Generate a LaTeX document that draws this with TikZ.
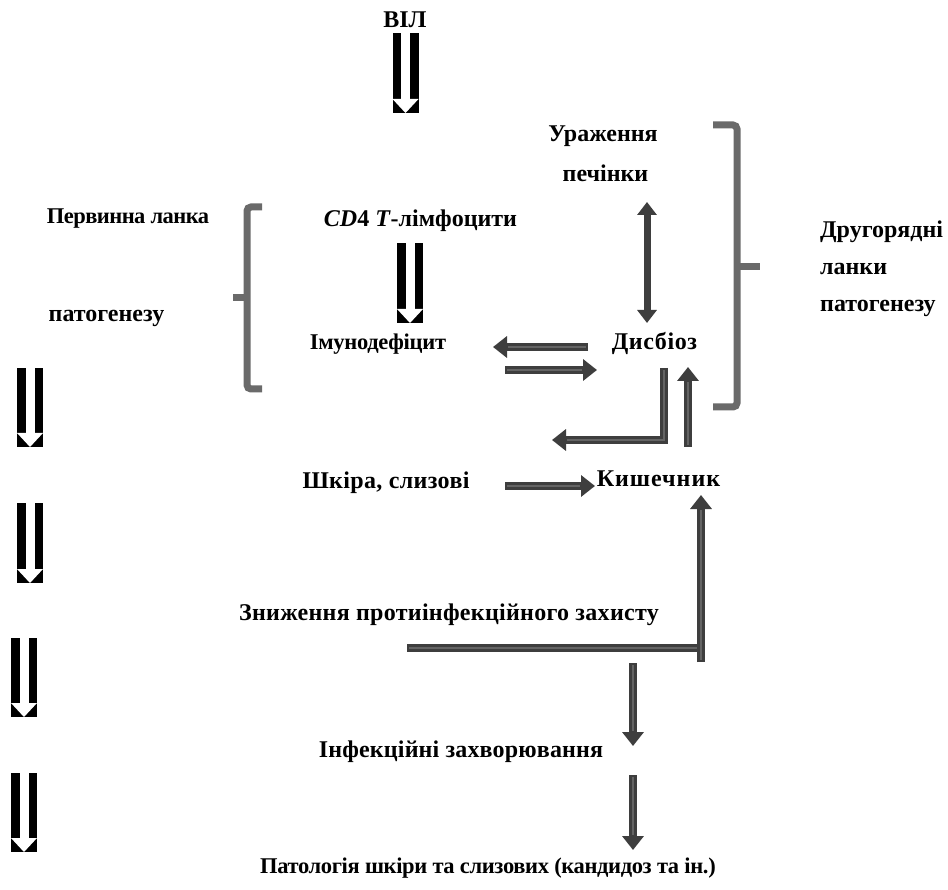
\documentclass[tikz,border=0pt]{standalone}
\usepackage{fontspec}
\setmainfont{Liberation Serif}
\usetikzlibrary{arrows.meta}
\definecolor{arrdark}{HTML}{3E3E3E}
\definecolor{arrlight}{HTML}{646464}
\definecolor{brk}{HTML}{6A6A6A}
\tikzset{
  lbl/.style={font=\bfseries\fontsize{24}{28}\selectfont, inner sep=0pt, anchor=base},
  ls/.style={font=\bfseries\fontsize{24}{28}\selectfont\addfontfeatures{LetterSpace=#1}},
  lsm/.style={font=\bfseries\fontsize{22.5}{27}\selectfont\addfontfeatures{LetterSpace=#1}},
  garrow/.style={draw=arrdark, line width=8pt, -{Triangle[length=14pt,width=21pt]},
     postaction={draw=arrlight, line width=2.5pt, -, shorten >=15pt, shorten <=2pt}},
  gline/.style={draw=arrdark, line width=8pt,
     postaction={draw=arrlight, line width=2.5pt, shorten >=2pt, shorten <=2pt}},
  gdouble/.style={draw=arrdark, line width=7pt, {Triangle[length=13pt,width=19pt]}-{Triangle[length=13pt,width=19pt]}},
  bracket/.style={draw=brk, line width=7pt, rounded corners=4pt}
}
\newcommand\hollowdown[3]{%
  \fill[black] (#1-13,#2) rectangle (#1+13,#3);
  \fill[white] (#1-4.5,#2) rectangle (#1+4.5,#3-14);
  \fill[white] (#1-13,#3-14) -- (#1+13,#3-14) -- (#1,#3) -- cycle;
}
\begin{document}
\begin{tikzpicture}[x=1pt,y=-1pt]
\useasboundingbox[fill=white] (0,0) rectangle (948,890);

% texts
\node[lbl] (vil) at (405,28) {ВІЛ};
\node[lbl] (urazh) at (603,142) {Ураження};
\node[lbl] (pech) at (605.5,182) {печінки};
\node[lbl, lsm=-2.4] (pervynna) at (128,224) {Первинна ланка};
\node[lbl] (cd4) at (420.5,227) {\textit{CD}4 \textit{T}-лімфоцити};
\node[lbl, anchor=base west] (druh) at (820,238) {Другорядні};
\node[lbl, anchor=base west] (lanky) at (820,275) {ланки};
\node[lbl, anchor=base west] (patog2) at (820,312) {патогенезу};
\node[lbl] (patog1) at (106.5,322) {патогенезу};
\node[lbl, lsm=-1.3] (imuno) at (378,350) {Імунодефіцит};
\node[lbl, ls=2.5] (dysb) at (654.5,350) {Дисбіоз};
\node[lbl, ls=1.5] (shkira) at (386,488) {Шкіра, слизові};
\node[lbl, ls=4] (kysh) at (658.5,486) {Кишечник};
\node[lbl, ls=1.2] (znyzh) at (449,620) {Зниження протиінфекційного захисту};
\node[lbl, ls=0.7] (infek) at (461,757) {Інфекційні захворювання};
\node[lbl, lsm=-1.6] (patol) at (488,873) {Патологія шкіри та слизових (кандидоз та ін.)};

% hollow black arrows
\hollowdown{405.5}{33}{113}
\hollowdown{410}{243}{323}
\hollowdown{30}{368}{447}
\hollowdown{30}{503}{583}
\hollowdown{24}{638}{717}
\hollowdown{24}{773}{852}

% brackets
\draw[bracket] (262,207) -- (247,207) -- (247,389) -- (262,389);
\draw[draw=brk, line width=7pt] (233,298) -- (247,298);
\draw[bracket] (713,125) -- (737,125) -- (737,407) -- (713,407);
\draw[draw=brk, line width=7pt] (737,267) -- (760,267);

% coordinates
\coordinate (liverTop) at (647,202);
\coordinate (liverBot) at (647,323);
\coordinate (toImS) at (588,347);
\coordinate (toImE) at (493,347);
\coordinate (toDyS) at (505,370);
\coordinate (toDyE) at (597,370);
\coordinate (lS) at (664,368);
\coordinate (lE) at (552,440);
\coordinate (upS) at (688,447);
\coordinate (upE) at (688,367);
\coordinate (skS) at (505,486);
\coordinate (skE) at (595,486);
\coordinate (hzS) at (407,648);
\coordinate (hzE) at (701,648);
\coordinate (vkS) at (701,662);
\coordinate (vkE) at (701,495);
\coordinate (d1S) at (633,663);
\coordinate (d1E) at (633,746);
\coordinate (d2S) at (633,775);
\coordinate (d2E) at (633,850);

% gray arrows
\draw[gdouble] (liverTop) -- (liverBot);
\draw[garrow] (toImS) -- (toImE);
\draw[garrow] (toDyS) -- (toDyE);
\draw[garrow] (lS) |- (lE);
\draw[garrow] (upS) -- (upE);
\draw[garrow] (skS) -- (skE);
\draw[gline] (hzS) -- (hzE);
\draw[garrow] (vkS) -- (vkE);
\draw[garrow] (d1S) -- (d1E);
\draw[garrow] (d2S) -- (d2E);
\end{tikzpicture}
\end{document}
